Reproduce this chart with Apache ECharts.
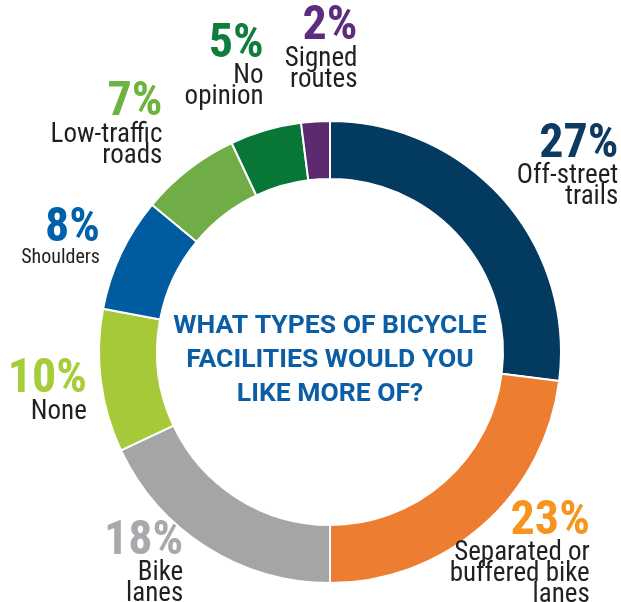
<!DOCTYPE html>
<html><head><meta charset="utf-8"><script src="https://cdn.jsdelivr.net/npm/echarts@6/dist/echarts.min.js"></script></head>
<body style="margin:0;background:#fff"><div id="c" style="width:621px;height:602px"></div>
<script>
// ---- data ----
const categories = ['Off-street\ntrails', 'Separated or\nbuffered bike\nlanes', 'Bike\nlanes', 'None', 'Shoulders', 'Low-traffic\nroads', 'No\nopinion', 'Signed\nroutes'];
const values = [27, 23, 18, 10, 8, 7, 5, 2];
const centerTitle = 'WHAT TYPES OF BICYCLE\nFACILITIES WOULD YOU\nLIKE MORE OF?';

// ---- styles ----
const sliceColors = ['#033a60', '#ed7d31', '#a5a5a5', '#a6c93a', '#005b9f', '#70ad47', '#077637', '#5d2a6f'];
const pctColors   = ['#0c3a60', '#f7941e', '#a7a9ac', '#a5cd39', '#0060a9', '#6db33f', '#117d3c', '#5c2d7e'];
const smallName   = [false, false, false, false, true, false, false, false];
const labelNudge  = [[115, -33], [107, 28], [-23, 16], [-14, 10], [-21, -17], [-26, -45], [-2, -64], [42, -73]];
const CX = 330, CY = 352;

const rich = {
  n: {fontFamily: 'Roboto Condensed', fontSize: 27, lineHeight: 21, color: '#231f20', align: 'right'},
  s: {fontFamily: 'Roboto Condensed', fontSize: 20, lineHeight: 15, color: '#231f20', align: 'right'}
};
pctColors.forEach((c, i) => {
  rich['p' + i] = {fontFamily: 'Roboto Condensed', fontWeight: 'bold', fontSize: 48, lineHeight: 42, color: c, align: 'right'};
});

const chart = echarts.init(document.getElementById('c'));
chart.setOption({
  animation: false,
  series: [{
    type: 'pie',
    center: [CX, CY],
    radius: [173, 231],
    startAngle: 90,
    clockwise: true,
    avoidLabelOverlap: false,
    emphasis: {disabled: true},
    itemStyle: {borderColor: '#ffffff', borderWidth: 2},
    label: {
      show: true,
      position: 'outside',
      distanceToLabelLine: 0,
      rich: rich,
      formatter: p => {
        const key = smallName[p.dataIndex] ? 's' : 'n';
        return '{p' + p.dataIndex + '|' + p.value + '%}\n' +
          categories[p.dataIndex].split('\n').map(t => '{' + key + '|' + t + '}').join('\n');
      }
    },
    labelLine: {show: false, length: 0, length2: 0},
    labelLayout: p => ({dx: labelNudge[p.dataIndex][0], dy: labelNudge[p.dataIndex][1], align: 'right', verticalAlign: 'middle'}),
    data: values.map((v, i) => ({value: v, name: categories[i], itemStyle: {color: sliceColors[i]}}))
  }],
  graphic: [{
    type: 'text', x: CX, y: CY + 8,
    style: {text: centerTitle, fontFamily: 'Roboto', fontWeight: 'bold', fontSize: 26.5, lineHeight: 34, fill: '#0b5ea5', align: 'center', verticalAlign: 'middle'}
  }]
});
</script></body></html>
